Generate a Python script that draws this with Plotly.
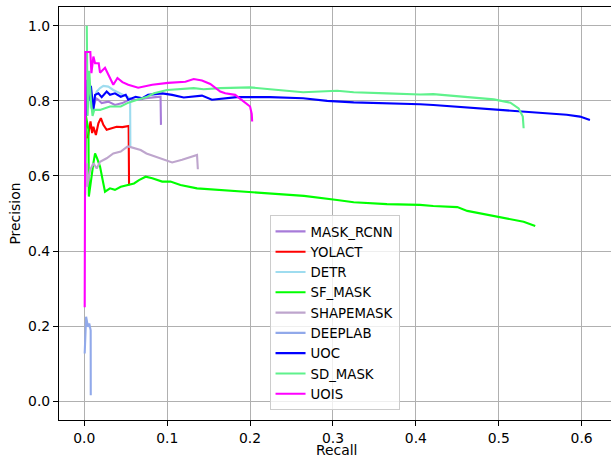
import plotly.graph_objects as go

# ---- data (recall, precision) ----
names = ["MASK_RCNN", "YOLACT", "DETR", "SF_MASK", "SHAPEMASK", "DEEPLAB", "UOC", "SD_MASK", "UOIS"]
colors = ["#a77bd9", "#ff0000", "#9edcef", "#00ff00", "#bea5cd", "#91a9ea", "#0000ff", "#5ff28c", "#ff00ff"]

mask_rcnn_r = [0.011, 0.014, 0.017, 0.021, 0.029, 0.037, 0.046, 0.054, 0.066, 0.074, 0.086, 0.092, 0.0925]
mask_rcnn_p = [0.78, 0.807, 0.803, 0.794, 0.798, 0.789, 0.794, 0.803, 0.803, 0.807, 0.81, 0.811, 0.736]

yolact_r = [0.004, 0.0075, 0.0095, 0.011, 0.014, 0.017, 0.020, 0.023, 0.027, 0.033, 0.039, 0.046, 0.0535, 0.054]
yolact_p = [0.70, 0.745, 0.714, 0.731, 0.709, 0.74, 0.754, 0.736, 0.723, 0.727, 0.731, 0.73, 0.733, 0.575]

detr_r = [0.004, 0.006, 0.008, 0.011, 0.015, 0.019, 0.023, 0.029, 0.035, 0.047, 0.0553, 0.0556]
detr_p = [0.80, 0.85, 0.78, 0.80, 0.825, 0.834, 0.84, 0.838, 0.829, 0.816, 0.807, 0.675]

sf_mask_r = [0.001, 0.002, 0.005, 0.0055, 0.011, 0.013, 0.0155, 0.019, 0.023, 0.025, 0.031, 0.037,
             0.044, 0.053, 0.060, 0.066, 0.074, 0.082, 0.094, 0.104, 0.116, 0.136, 0.164, 0.204,
             0.224, 0.265, 0.305, 0.325, 0.365, 0.405, 0.421, 0.45, 0.462, 0.502, 0.53, 0.544]
sf_mask_p = [0.55, 0.76, 0.723, 0.545, 0.634, 0.66, 0.647, 0.625, 0.58, 0.558, 0.567, 0.563,
             0.571, 0.576, 0.58, 0.589, 0.598, 0.594, 0.585, 0.585, 0.576, 0.567, 0.563, 0.556,
             0.554, 0.547, 0.536, 0.53, 0.525, 0.523, 0.52, 0.517, 0.507, 0.491, 0.478, 0.467]

shapemask_r = [0.0035, 0.0036, 0.007, 0.011, 0.015, 0.019, 0.027, 0.035, 0.044, 0.052, 0.054, 0.062,
               0.068, 0.075, 0.086, 0.098, 0.106, 0.118, 0.124, 0.136, 0.137]
shapemask_p = [0.634, 0.571, 0.616, 0.634, 0.62, 0.638, 0.647, 0.66, 0.665, 0.678, 0.678, 0.674,
               0.669, 0.66, 0.651, 0.643, 0.636, 0.643, 0.647, 0.656, 0.618]

deeplab_r = [0.0005, 0.0022, 0.0045, 0.006, 0.0077, 0.0078]
deeplab_p = [0.127, 0.225, 0.198, 0.207, 0.189, 0.016]

uoc_r = [0.003, 0.0035, 0.005, 0.008, 0.011, 0.013, 0.017, 0.021, 0.027, 0.031, 0.037, 0.044, 0.05,
         0.053, 0.062, 0.07, 0.077, 0.094, 0.106, 0.12, 0.142, 0.154, 0.184, 0.224, 0.264, 0.293,
         0.325, 0.365, 0.405, 0.421, 0.462, 0.502, 0.542, 0.582, 0.598, 0.61]
uoc_p = [0.76, 0.856, 0.80, 0.84, 0.776, 0.816, 0.82, 0.81, 0.825, 0.816, 0.82, 0.811, 0.816,
         0.803, 0.811, 0.807, 0.816, 0.82, 0.816, 0.809, 0.814, 0.803, 0.81, 0.81, 0.807, 0.80,
         0.796, 0.794, 0.791, 0.789, 0.782, 0.776, 0.769, 0.763, 0.758, 0.749]

sd_mask_r = [0.003, 0.004, 0.006, 0.008, 0.010, 0.012, 0.019, 0.031, 0.044, 0.052, 0.064, 0.076,
             0.084, 0.10, 0.132, 0.144, 0.164, 0.20, 0.224, 0.264, 0.305, 0.325, 0.365, 0.405,
             0.421, 0.462, 0.494, 0.514, 0.524, 0.529, 0.53]
sd_mask_p = [1.0, 0.76, 0.88, 0.80, 0.76, 0.776, 0.776, 0.785, 0.785, 0.794, 0.803, 0.811,
             0.82, 0.829, 0.834, 0.831, 0.834, 0.836, 0.831, 0.823, 0.827, 0.823, 0.82, 0.817,
             0.818, 0.811, 0.804, 0.795, 0.78, 0.758, 0.727]

uois_r = [0.0005, 0.0008, 0.0013, 0.0073, 0.0086, 0.011, 0.013, 0.0174, 0.019, 0.025, 0.029, 0.035,
          0.04, 0.046, 0.053, 0.065, 0.082, 0.101, 0.122, 0.132, 0.142, 0.152, 0.164, 0.17, 0.182,
          0.192, 0.20, 0.202, 0.2025]
uois_p = [0.25, 0.91, 0.93, 0.93, 0.874, 0.918, 0.90, 0.90, 0.875, 0.888, 0.869, 0.843,
          0.861, 0.85, 0.843, 0.835, 0.843, 0.848, 0.851, 0.858, 0.854, 0.845, 0.825, 0.82, 0.816,
          0.798, 0.785, 0.765, 0.745]

x_ticks = [0.0, 0.1, 0.2, 0.3, 0.4, 0.5, 0.6]
y_ticks = [0.0, 0.2, 0.4, 0.6, 0.8, 1.0]
x_title = "Recall"
y_title = "Precision"

series = [
    (mask_rcnn_r, mask_rcnn_p), (yolact_r, yolact_p), (detr_r, detr_p),
    (sf_mask_r, sf_mask_p), (shapemask_r, shapemask_p), (deeplab_r, deeplab_p),
    (uoc_r, uoc_p), (sd_mask_r, sd_mask_p), (uois_r, uois_p),
]

FONT = "DejaVu Sans"
FS = 13.9

fig = go.Figure()
for name, color, (r, p) in zip(names, colors, series):
    fig.add_trace(go.Scatter(x=r, y=p, mode="lines", name=name,
                             line=dict(color=color, width=2.1)))

fig.update_layout(
    width=611, height=457,
    margin=dict(l=59, r=0, t=7, b=37),
    paper_bgcolor="white", plot_bgcolor="white",
    font=dict(family=FONT, size=FS, color="black"),
    showlegend=True,
    legend=dict(x=0.3814, y=0.4957, xanchor="left", yanchor="top",
                bgcolor="rgba(255,255,255,0.8)", bordercolor="#cccccc", borderwidth=1,
                font=dict(family=FONT, size=13.3, color="black"),
                tracegroupgap=0),
    annotations=[
        dict(text=x_title, xref="paper", yref="paper", x=0.5036, y=-0.0735,
             xanchor="center", yanchor="middle", showarrow=False,
             font=dict(family=FONT, size=FS, color="black")),
        dict(text=y_title, xref="paper", yref="paper", x=-0.0815, y=0.5,
             xanchor="center", yanchor="middle", textangle=-90, showarrow=False,
             font=dict(family=FONT, size=FS, color="black")),
    ],
)
fig.update_xaxes(
    range=[-0.0305, 0.6354], tickvals=x_ticks, ticktext=[f"{v:.1f}" for v in x_ticks],
    showgrid=True, gridcolor="#b0b0b0", gridwidth=1.1, zeroline=False,
    showline=True, linecolor="black", linewidth=1.1, mirror=True,
    ticks="outside", ticklen=5, tickwidth=1.1, tickcolor="black",
    automargin=False,
)
fig.update_yaxes(
    range=[-0.05, 1.05], tickvals=y_ticks, ticktext=[f"{v:.1f}" for v in y_ticks],
    showgrid=True, gridcolor="#b0b0b0", gridwidth=1.1, zeroline=False,
    showline=True, linecolor="black", linewidth=1.1, mirror=False,
    ticks="outside", ticklen=5, tickwidth=1.1, tickcolor="black",
    automargin=False,
)

fig.write_html(
    "out.html",
    config={"displayModeBar": False},
    post_script="document.body.style.margin='0';document.body.style.padding='0';",
)
